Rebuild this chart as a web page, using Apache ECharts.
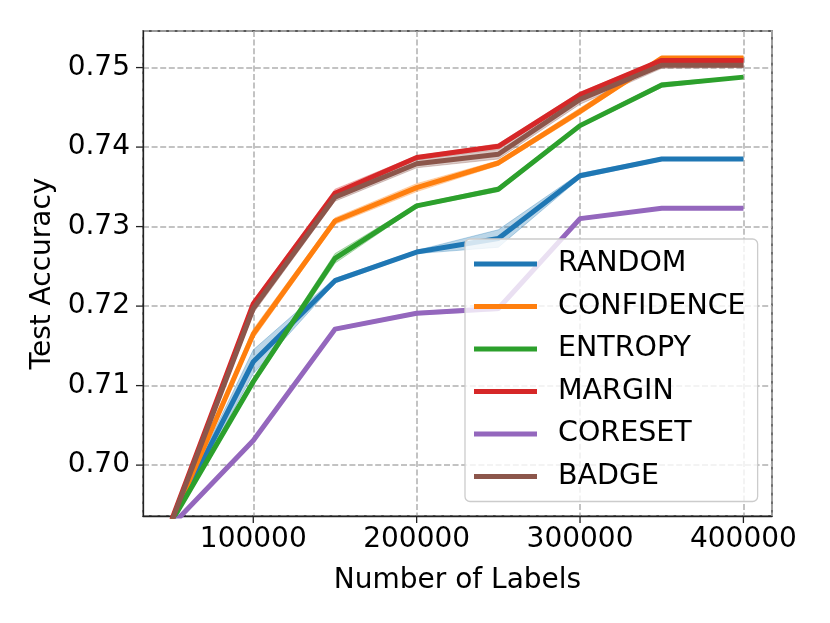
<!DOCTYPE html>
<html>
<head>
<meta charset="utf-8">
<script src="https://cdn.jsdelivr.net/npm/echarts@6/dist/echarts.min.js"></script>
<style>html,body{margin:0;padding:0;background:#fff;}#c{width:830px;height:623px;}</style>
</head>
<body>
<div id="c"></div>
<script>
const labels = [50000, 100000, 150000, 200000, 250000, 300000, 350000, 400000];
const xTicks = [100000, 200000, 300000, 400000];
const yTicks = [0.70, 0.71, 0.72, 0.73, 0.74, 0.75];

const names = ['RANDOM', 'CONFIDENCE', 'ENTROPY', 'MARGIN', 'CORESET', 'BADGE'];
const colors = ['#1f77b4', '#ff7f0e', '#2ca02c', '#d62728', '#9467bd', '#8c564b'];

const randomMean     = [0.6929, 0.7130, 0.7232, 0.7268, 0.7285, 0.7364, 0.7385, 0.7385];
const randomStd      = [0.0003, 0.0015, 0.0003, 0.0002, 0.0011, 0.0003, 0.0002, 0.0001];
const confidenceMean = [0.6929, 0.7165, 0.7307, 0.7349, 0.7380, 0.7445, 0.7512, 0.7512];
const confidenceStd  = [0.0003, 0.0006, 0.0004, 0.0005, 0.0003, 0.0004, 0.0002, 0.0002];
const entropyMean    = [0.6929, 0.7105, 0.7260, 0.7326, 0.7347, 0.7427, 0.7478, 0.7488];
const entropyStd     = [0.0003, 0.0004, 0.0006, 0.0002, 0.0003, 0.0002, 0.0003, 0.0001];
const marginMean     = [0.6931, 0.7203, 0.7342, 0.7387, 0.7401, 0.7466, 0.7509, 0.7509];
const marginStd      = [0.0003, 0.0004, 0.0005, 0.0002, 0.0003, 0.0003, 0.0002, 0.0002];
const coresetMean    = [0.6924, 0.7031, 0.7171, 0.7191, 0.7197, 0.7310, 0.7323, 0.7323];
const coresetStd     = [0.0002, 0.0002, 0.0002, 0.0002, 0.0003, 0.0002, 0.0001, 0.0001];
const badgeMean      = [0.6929, 0.7197, 0.7337, 0.7379, 0.7391, 0.7460, 0.7503, 0.7503];
const badgeStd       = [0.0003, 0.0006, 0.0005, 0.0005, 0.0006, 0.0006, 0.0004, 0.0003];

const means = [randomMean, confidenceMean, entropyMean, marginMean, coresetMean, badgeMean];
const stds  = [randomStd, confidenceStd, entropyStd, marginStd, coresetStd, badgeStd];

const FONT = 'DejaVu Sans';
const X_MIN = 32500, X_MAX = 417500, Y_MIN = 0.6936, Y_MAX = 0.7546;
const series = [];
names.forEach((n, i) => {
  const m = means[i], s = stds[i];
  const bandData = labels.map((x, k) => [x, m[k] - s[k], m[k] + s[k]]);
  series.push({
    name: n + '_band', type: 'custom', silent: true, z: 2,
    clip: true,
    encode: { x: 0, y: [1, 2] },
    data: bandData,
    renderItem: (params, api) => {
      if (params.dataIndex !== 0) return null;
      const upper = [], lower = [];
      for (let k = 0; k < bandData.length; k++) {
        upper.push(api.coord([bandData[k][0], bandData[k][2]]));
        lower.unshift(api.coord([bandData[k][0], bandData[k][1]]));
      }
      const cs = params.coordSys;
      return {
        type: 'polygon',
        shape: { points: upper.concat(lower) },
        clipPath: { type: 'rect', shape: { x: cs.x, y: cs.y, width: cs.width, height: cs.height } },
        style: { fill: colors[i], opacity: 0.3, stroke: colors[i], lineWidth: 1 }
      };
    }
  });
  series.push({
    name: n, type: 'line', symbol: 'none', color: colors[i], clip: true,
    lineStyle: { width: 5, color: colors[i], cap: 'butt', join: 'round' },
    data: labels.map((x, k) => [x, m[k]]), z: 3
  });
});

const chart = echarts.init(document.getElementById('c'), null, { renderer: 'canvas' });
chart.setOption({
  animation: false,
  backgroundColor: '#ffffff',
  grid: { left: 143, right: 58, top: 31, bottom: 107, show: true, borderColor: '#222', borderWidth: 1.3, backgroundColor: 'transparent' },
  legend: {
    data: names.map(n => ({ name: n, icon: 'rect' })),
    orient: 'vertical', left: 465, top: 239,
    itemWidth: 63, itemHeight: 5, itemGap: 8.5,
    padding: [8, 12, 8, 9],
    backgroundColor: 'rgba(255,255,255,0.8)', borderColor: '#cccccc', borderWidth: 1.3, borderRadius: 5,
    textStyle: { fontFamily: FONT, fontSize: 28.5, color: '#000', lineHeight: 34, padding: [0, 0, 0, 16] }
  },
  xAxis: {
    type: 'value', min: X_MIN, max: X_MAX, splitNumber: 4,
    name: 'Number of Labels', nameLocation: 'middle', nameGap: 51,
    nameTextStyle: { fontFamily: FONT, fontSize: 28, color: '#000' },
    axisLine: { show: true, lineStyle: { color: '#222', width: 1.3 } },
    axisTick: { show: false },
    axisLabel: { fontFamily: FONT, fontSize: 28, color: '#000', margin: 10, customValues: xTicks, formatter: v => String(v) },
    splitLine: { show: true, lineStyle: { color: '#b0b0b0', width: 1.5, type: [6, 2.6] } }
  },
  yAxis: {
    type: 'value', min: Y_MIN, max: Y_MAX, splitNumber: 6,
    name: 'Test Accuracy', nameLocation: 'middle', nameGap: 78, nameRotate: 90,
    nameTextStyle: { fontFamily: FONT, fontSize: 28, color: '#000' },
    axisLine: { show: true, lineStyle: { color: '#222', width: 1.3 } },
    axisTick: { show: false },
    axisLabel: { fontFamily: FONT, fontSize: 28, color: '#000', margin: 13, customValues: yTicks, formatter: v => v.toFixed(2) },
    splitLine: { show: true, lineStyle: { color: '#b0b0b0', width: 1.5, type: [6, 2.6] } }
  },
  series: series
});

// outward tick marks at the labelled values, positioned through the axes' own scales
const tickEls = [];
xTicks.forEach(v => {
  const p = chart.convertToPixel({ gridIndex: 0 }, [v, Y_MIN]);
  tickEls.push({ type: 'line', shape: { x1: p[0], y1: p[1], x2: p[0], y2: p[1] + 7 }, style: { stroke: '#222', lineWidth: 1.3 }, z: 10 });
});
yTicks.forEach(v => {
  const p = chart.convertToPixel({ gridIndex: 0 }, [X_MIN, v]);
  tickEls.push({ type: 'line', shape: { x1: p[0] - 7, y1: p[1], x2: p[0], y2: p[1] }, style: { stroke: '#222', lineWidth: 1.3 }, z: 10 });
});
chart.setOption({ graphic: tickEls });
</script>
</body>
</html>
